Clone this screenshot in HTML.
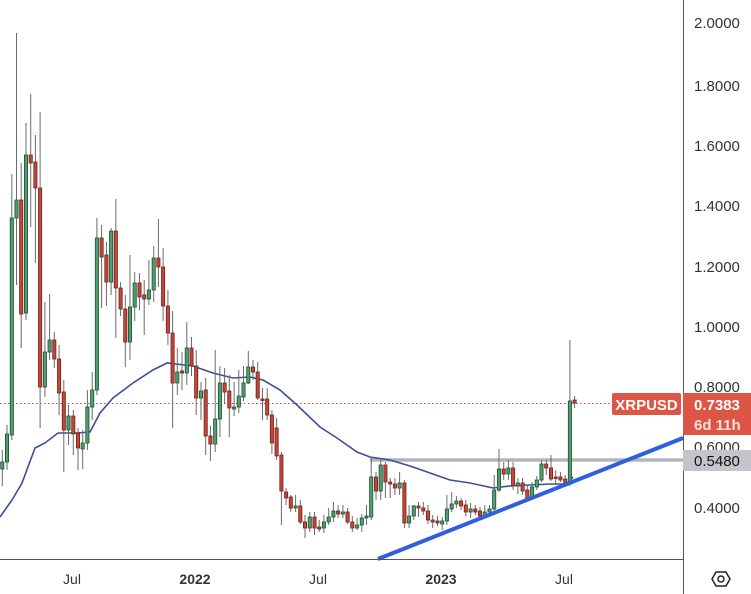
<!DOCTYPE html>
<html><head><meta charset="utf-8"><style>
html,body{margin:0;padding:0;background:#fff;}
svg{display:block;font-family:"Liberation Sans",sans-serif;}
</style></head><body>
<svg id="c" width="751" height="594" viewBox="0 0 751 594" xmlns="http://www.w3.org/2000/svg"></svg>
<script>
const d=[
[462,469,'g',450,486],[434,462,'g',425,470],[218,435,'g',174,440],[200,218,'g',33,285],[200,314,'r',163,348],
[155,313,'g',123,320],[155,163,'r',94,227],[162,188,'r',135,263],[188,387,'r',112,428],[352,387,'g',302,397],
[340,352,'g',294,360],[340,359,'r',332,368],[359,393,'r',345,415],[392,430,'r',380,472],[416,430,'g',405,445],
[416,434,'r',410,455],[433,448,'r',428,470],[443,449,'g',430,469],[407,443,'g',390,450],[390,407,'g',372,420],
[238,390,'g',218,395],[238,257,'r',225,308],[255,282,'r',242,306],[231,282,'g',228,295],[231,288,'r',199,338],
[288,309,'r',282,316],[309,342,'r',295,367],[307,342,'g',255,360],[283,307,'g',272,321],[283,297,'r',273,310],
[295,299,'r',280,335],[290,299,'g',260,305],[258,290,'g',246,302],[258,267,'r',219,287],[267,306,'r',248,321],
[306,333,'r',290,345],[333,383,'r',311,428],[372,383,'g',348,395],[371,373,'r',352,390],[348,373,'g',322,385],
[348,366,'r',337,376],[366,398,'r',350,415],[391,398,'g',382,420],[390,436,'r',378,455],[436,444,'r',426,461],
[419,444,'g',350,452],[383,419,'g',366,437],[383,392,'r',368,404],[391,408,'r',375,437],[407,409,'g',382,416],
[396,407,'g',370,413],[383,397,'g',366,401],[367,383,'g',351,384],[367,372,'r',360,380],[372,398,'r',362,400],
[399,400,'r',388,420],[399,415,'r',388,420],[415,443,'r',410,454],[428,456,'r',418,460],[455,491,'r',452,525],
[492,498,'r',488,505],[497,508,'r',495,512],[506,508,'g',495,512],[506,522,'r',500,524],[522,528,'r',515,538],
[517,528,'g',512,532],[517,528,'r',512,535],[527,529,'r',520,532],[522,528,'g',515,533],[517,522,'g',508,525],
[511,517,'g',502,522],[511,514,'r',505,518],[512,514,'g',505,518],[512,522,'r',508,524],[522,528,'r',516,532],
[525,528,'g',518,530],[518,525,'g',514,532],[516,518,'g',505,525],[477,517,'g',457,520],[477,491,'r',472,500],
[465,491,'g',460,500],[465,482,'r',462,498],[482,484,'r',478,498],[484,488,'r',478,495],[483,488,'g',472,495],
[483,523,'r',480,528],[516,523,'g',505,528],[506,516,'g',505,520],[506,508,'r',502,517],[508,511,'r',502,515],
[511,520,'r',505,524],[520,522,'r',515,528],[521,523,'r',516,526],[521,524,'g',517,530],[509,521,'g',495,525],
[504,509,'g',492,512],[501,504,'g',496,508],[501,506,'r',498,510],[505,512,'r',500,516],[509,512,'g',503,518],
[509,512,'r',505,515],[511,516,'r',507,520],[512,516,'g',505,518],[509,512,'g',505,514],[490,509,'g',475,511],
[469,490,'g',449,492],[469,474,'r',462,480],[468,474,'g',460,480],[468,486,'r',462,490],[483,486,'g',478,494],
[483,491,'r',478,495],[490,498,'r',485,500],[487,498,'g',482,500],[480,487,'g',476,490],[464,480,'g',460,482],
[464,468,'r',460,475],[468,479,'r',455,481],[477,478,'r',470,485],[477,480,'r',472,482],[479,484,'r',475,487],
[401,484,'g',340,486],[400,403,'r',396,408]];
let s='';
// grid-free chart; dotted price line
s+='<line x1="0" y1="403.5" x2="683" y2="403.5" stroke="#c0504a" stroke-width="1" stroke-dasharray="1.5,2.5"/>';
// horizontal support
s+='<line x1="370" y1="460" x2="683" y2="460" stroke="#b2b5be" stroke-width="3.5"/>';
// MA
const ma=[[0,517],[12,500],[22,483],[35,448],[45,443],[58,433],[77,433],[90,432],[100,413],[113,398],[133,383],[153,370],[167,363],[193,366],[213,373],[233,378],[250,377],[263,380],[280,390],[297,405],[320,427],[337,438],[357,452],[370,457],[390,460],[410,466],[430,473],[450,480],[470,483],[493,488],[510,486],[530,485],[550,484],[567,484],[573,477]];
s+='<polyline fill="none" stroke="#3b4f9a" stroke-width="1.6" points="'+ma.map(p=>p.join(',')).join(' ')+'"/>';
// candles
d.forEach((c,i)=>{const x=2.3+i*4.73;const g=c[2]=='g';
s+='<line x1="'+x.toFixed(1)+'" y1="'+c[3]+'" x2="'+x.toFixed(1)+'" y2="'+c[4]+'" stroke="#6a6a6a" stroke-width="1"/>';
const h=Math.max(c[1]-c[0],1.5);
s+='<rect x="'+(x-1.6).toFixed(1)+'" y="'+c[0]+'" width="3.2" height="'+h+'" fill="'+(g?'#4f9e6e':'#c4453a')+'" stroke="'+(g?'#1e4f33':'#6e2419')+'" stroke-width="0.8"/>';});
// trendline
s+='<line x1="378" y1="559" x2="683" y2="438" stroke="#2f5fe0" stroke-width="4"/>';
// axes
s+='<line x1="683.5" y1="0" x2="683.5" y2="594" stroke="#555" stroke-width="1"/>';
s+='<line x1="0" y1="559.5" x2="683" y2="559.5" stroke="#555" stroke-width="1"/>';
const yl=[[2.0,23],[1.8,86],[1.6,146],[1.4,206],[1.2,267],[1.0,327],[0.8,387],[0.6,447],[0.4,508]];
yl.forEach(l=>{s+='<text x="694" y="'+(l[1]+5)+'" font-size="15" fill="#333">'+l[0].toFixed(4)+'</text>';});
// labels
s+='<rect x="612" y="393" width="69" height="22" rx="2" fill="#dd5645"/>';
s+='<text x="646.5" y="410" font-size="15" font-weight="bold" fill="#fff" text-anchor="middle">XRPUSD</text>';
s+='<rect x="683" y="393" width="68" height="42" fill="#dd5645"/>';
s+='<text x="694" y="410" font-size="15" font-weight="bold" fill="#fff">0.7383</text>';
s+='<text x="694" y="430" font-size="15" font-weight="bold" fill="#fbe1dc">6d 11h</text>';
s+='<rect x="683" y="450" width="68" height="21" fill="#c3c5cb"/>';
s+='<text x="694" y="466" font-size="15" fill="#111">0.5480</text>';
// x axis
[['Jul',72,0],['2022',195,1],['Jul',318,0],['2023',441,1],['Jul',564,0]].forEach(t=>{
s+='<text x="'+t[1]+'" y="584" font-size="14" text-anchor="middle" fill="#333"'+(t[2]?' font-weight="bold"':'')+'>'+t[0]+'</text>';});
// settings icon
s+='<polygon points="712,579 716,572 726,572 730,579 726,586 716,586" fill="none" stroke="#222" stroke-width="1.5"/><circle cx="721" cy="579" r="3" fill="none" stroke="#222" stroke-width="1.5"/>';
document.getElementById('c').innerHTML=s;
</script>
</body></html>
